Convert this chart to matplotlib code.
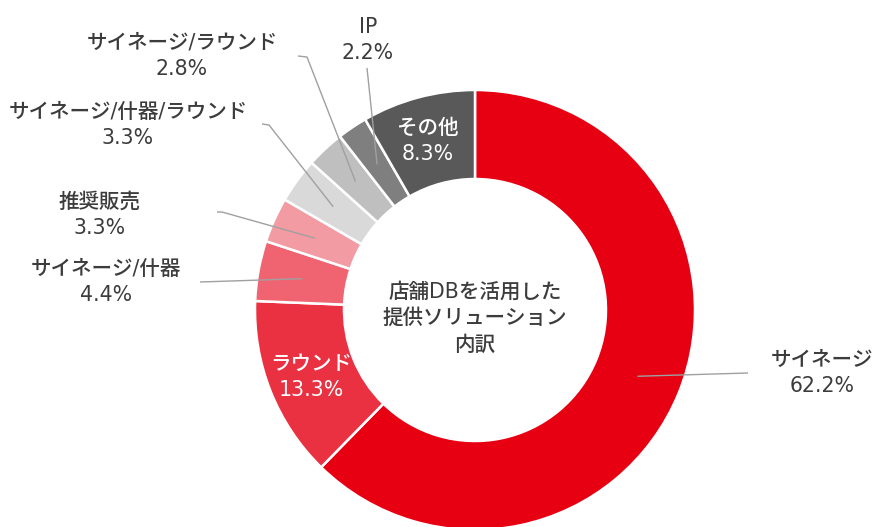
import numpy as np
import matplotlib
matplotlib.use("Agg")
import matplotlib.pyplot as plt

plt.rcParams['font.family'] = ['DejaVu Sans', 'Noto Sans CJK JP']

categories = ["サイネージ", "ラウンド", "サイネージ/什器", "推奨販売",
              "サイネージ/什器/ラウンド", "サイネージ/ラウンド", "IP", "その他"]
values = [62.2, 13.3, 4.4, 3.3, 3.3, 2.8, 2.2, 8.3]
colors = ["#E60012", "#EA3142", "#EF6470", "#F29BA2",
          "#D9D9D9", "#BFBFBF", "#7F7F7F", "#595959"]
center_title = "店舗DBを活用した\n提供ソリューション\n内訳"

W, H = 874, 527
fig = plt.figure(figsize=(W / 100, H / 100), dpi=100)
ax = fig.add_axes([0, 0, 1, 1])

cx, cy = 475, H - 310
R, ring = 220, 89
ax.pie(values, colors=colors, startangle=90, counterclock=False,
       radius=R, center=(cx, cy),
       wedgeprops=dict(width=ring, edgecolor="white", linewidth=1.8))
ax.set_xlim(0, W)
ax.set_ylim(0, H)
ax.set_aspect("equal")
ax.axis("off")

txt_color = "#3C3C3C"
fs = 14.8
lsp = 1.42
wt = 500

layout = {
    "サイネージ": dict(pos=(822, 373), inside=False, path=[(748, 373)]),
    "ラウンド": dict(pos=(311, 377), inside=True),
    "サイネージ/什器": dict(pos=(106, 282), inside=False, path=[(200, 282)]),
    "推奨販売": dict(pos=(100, 215), inside=False, path=[(217, 212), (222, 212)]),
    "サイネージ/什器/ラウンド": dict(pos=(128, 125), inside=False, path=[(262, 124), (269, 125)]),
    "サイネージ/ラウンド": dict(pos=(182, 56), inside=False, path=[(298, 56), (307, 57)]),
    "IP": dict(pos=(368, 40), inside=False, path=[(367, 68)]),
    "その他": dict(pos=(428, 141), inside=True),
}

total = sum(values)
cum = 0.0
r_anchor = R - ring / 2
for cat, v in zip(categories, values):
    mid = cum + v / 2
    cum += v
    ang = np.deg2rad(90 - 360 * mid / total)
    ax_pt = (cx + r_anchor * np.cos(ang), cy + r_anchor * np.sin(ang))
    L = layout[cat]
    x, y = L["pos"]
    label = f"{cat}\n{v:.1f}%"
    if L["inside"]:
        ax.text(x, H - y, label, ha="center", va="center", color="white",
                fontsize=fs, linespacing=lsp, fontweight=wt)
    else:
        ax.text(x, H - y, label, ha="center", va="center", color=txt_color,
                fontsize=fs, linespacing=lsp, fontweight=wt)
        pts = [(px, H - py) for px, py in L["path"]] + [ax_pt]
        xs, ys = zip(*pts)
        ax.plot(xs, ys, color="#A0A0A0", lw=1.0, solid_capstyle="butt")

ax.text(cx, H - 318, center_title, ha="center", va="center", color=txt_color,
        fontsize=fs, linespacing=lsp, fontweight=wt)

fig.savefig("out.png", dpi=100, facecolor="white")
